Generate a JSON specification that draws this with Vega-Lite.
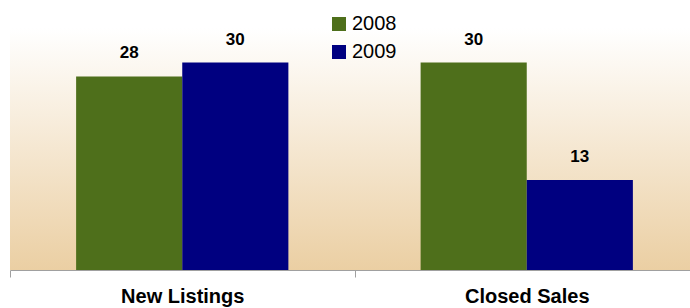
{
  "$schema": "https://vega.github.io/schema/vega-lite/v6.json",
  "width": 689,
  "height": 242,
  "padding": {"left": 10, "top": 28, "right": 0, "bottom": 38},
  "autosize": {"type": "none"},
  "background": "white",
  "config": {
    "font": "Liberation Sans",
    "view": {
      "stroke": null,
      "fill": {
        "gradient": "linear",
        "x1": 0, "y1": 0, "x2": 0, "y2": 1,
        "stops": [
          {"offset": 0, "color": "#ffffff"},
          {"offset": 1, "color": "#EBCFA3"}
        ]
      }
    }
  },
  "data": {
    "values": [
      {"category": "New Listings", "year": "2008", "value": 28},
      {"category": "New Listings", "year": "2009", "value": 30},
      {"category": "Closed Sales", "year": "2008", "value": 30},
      {"category": "Closed Sales", "year": "2009", "value": 13}
    ]
  },
  "encoding": {
    "x": {
      "field": "category",
      "type": "nominal",
      "sort": ["New Listings", "Closed Sales"],
      "scale": {"paddingInner": 0, "paddingOuter": 0},
      "axis": {
        "title": null,
        "labelAngle": 0,
        "tickBand": "extent",
        "domainColor": "#A0A0A0",
        "tickColor": "#A0A0A0",
        "tickSize": 7,
        "labelFontSize": 20,
        "labelFontWeight": "bold",
        "labelColor": "black",
        "labelPadding": 9
      }
    },
    "xOffset": {
      "field": "year",
      "type": "nominal",
      "scale": {"paddingOuter": 0.623, "paddingInner": 0}
    },
    "y": {
      "field": "value",
      "type": "quantitative",
      "scale": {"domain": [0, 35]},
      "axis": null
    }
  },
  "layer": [
    {
      "mark": {"type": "bar"},
      "encoding": {
        "color": {
          "field": "year",
          "type": "nominal",
          "scale": {"range": ["#4E6F1B", "#000080"]},
          "legend": {
            "orient": "none",
            "legendX": 319,
            "legendY": -14,
            "title": null,
            "symbolType": "square",
            "symbolSize": 196,
            "symbolStrokeWidth": 0,
            "labelFontSize": 20,
            "labelColor": "black",
            "labelOffset": 3,
            "rowPadding": 8
          }
        }
      }
    },
    {
      "mark": {"type": "text", "baseline": "bottom", "dy": -14, "fontSize": 17, "fontWeight": "bold", "color": "black"},
      "encoding": {"text": {"field": "value", "type": "quantitative"}}
    }
  ]
}
